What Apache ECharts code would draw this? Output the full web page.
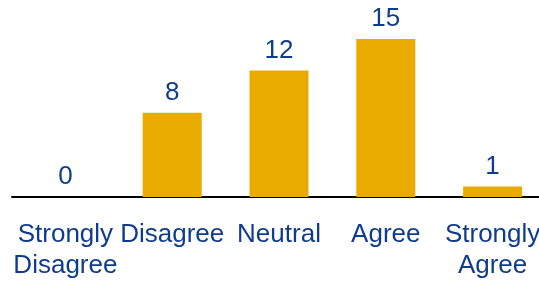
<!DOCTYPE html>
<html>
<head>
<meta charset="utf-8">
<script src="https://cdn.jsdelivr.net/npm/echarts@6/dist/echarts.min.js"></script>
<style>
  html, body { margin: 0; padding: 0; background: #fff; }
  #chart { width: 539px; height: 281px; }
</style>
</head>
<body>
<div id="chart"></div>
<script>
const categories = ['Strongly\nDisagree', 'Disagree', 'Neutral', 'Agree', 'Strongly\nAgree'];
const counts = [0, 8, 12, 15, 1];

const textBlue = '#103c8e';
const barGold = '#eaab00';
const fontFamily = 'Arial, "Liberation Sans", sans-serif';

const myChart = echarts.init(document.getElementById('chart'));
myChart.setOption({
  animation: false,
  grid: {
    left: 12,
    top: 39,
    bottom: 84,
    width: 534,
    outerBoundsMode: 'none',
    containLabel: false
  },
  xAxis: {
    type: 'category',
    data: categories,
    axisLine: { show: true, lineStyle: { color: '#000', width: 2 } },
    axisTick: { show: false },
    axisLabel: {
      interval: 0,
      margin: 22,
      color: textBlue,
      fontSize: 26,
      lineHeight: 31,
      fontFamily: fontFamily
    }
  },
  yAxis: {
    type: 'value',
    min: 0,
    max: 15,
    show: false,
    splitLine: { show: false }
  },
  series: [{
    type: 'bar',
    data: counts,
    barWidth: 59,
    itemStyle: { color: barGold },
    label: {
      show: true,
      position: 'top',
      distance: 7,
      color: textBlue,
      fontSize: 26,
      fontFamily: fontFamily
    }
  }]
});
</script>
</body>
</html>
